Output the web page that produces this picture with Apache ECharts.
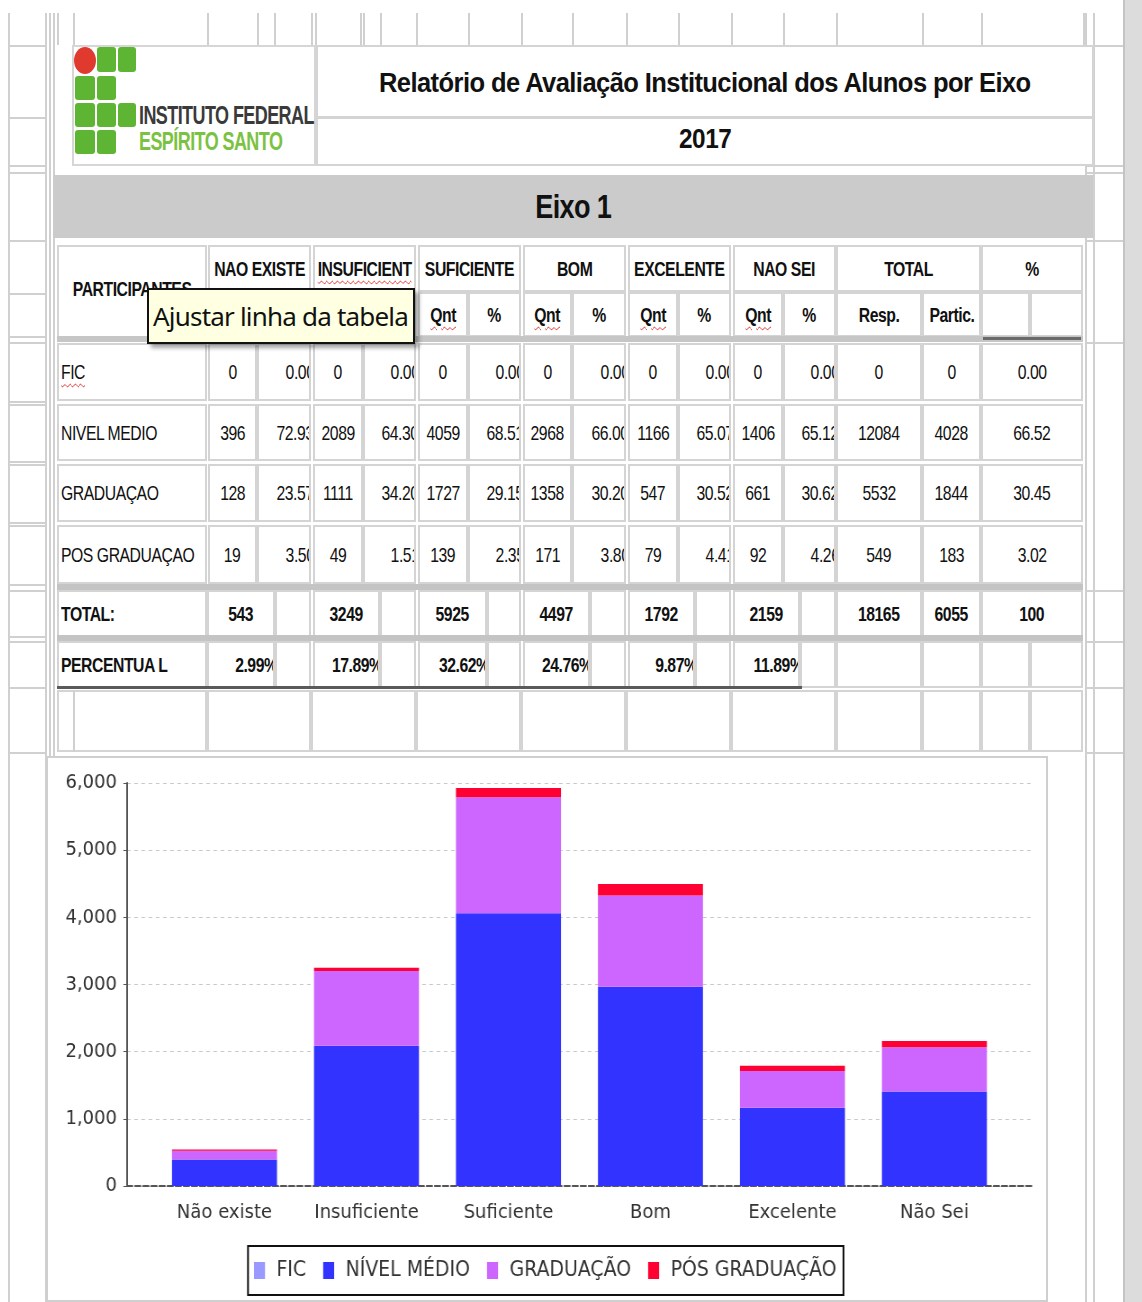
<!DOCTYPE html>
<html>
<head>
<meta charset="utf-8">
<script src="https://cdn.jsdelivr.net/npm/echarts@6/dist/echarts.min.js"></script>
<style>
html, body { margin: 0; padding: 0; background: #fff; }
#page { position: relative; width: 1142px; height: 1302px; overflow: hidden; background: #fff;
        font-family: 'Liberation Sans', Arial, sans-serif; color: #111; }
.ln { position: absolute; background: #d0d0d0; }
.cell { position: absolute; box-sizing: border-box; border: 2px solid #d4d4d4; background: #fff;
        display: flex; align-items: center; justify-content: center; overflow: hidden;
        font-size: 21px; letter-spacing: -0.6px; white-space: nowrap; }
.cell .t { display: inline-block; transform: scaleX(0.75); transform-origin: center; }
.cell.l { justify-content: flex-start; padding-left: 2px; }
.cell.l .t { transform-origin: left center; }
.cell.r { justify-content: flex-end; }
.cell.r .t { transform-origin: right center; margin-right: -5px; }
.cell.b { font-weight: bold; }
.wavy { text-decoration: underline wavy #e02020; text-underline-offset: 4px; text-decoration-thickness: 1px; }
.box { position: absolute; }
.sq { display: inline-block; transform-origin: left center; white-space: nowrap; }
</style>
</head>
<body>
<div id="page">
  <div id="chartFrame" class="box" style="left:46px;top:756px;width:1002px;height:546px;box-sizing:border-box;border:2px solid #cfcfcf;background:#fff"></div>
  <div id="chart" class="box" style="left:47px;top:757px;width:1111px;height:543px;transform:scaleX(0.9);transform-origin:left top"></div>
</div>

<script>
// chart data
const categories = ['Não existe', 'Insuficiente', 'Suficiente', 'Bom', 'Excelente', 'Não Sei']
const ficValues = [0, 0, 0, 0, 0, 0]
const nivelMedioValues = [396, 2089, 4059, 2968, 1166, 1406]
const graduacaoValues = [128, 1111, 1727, 1358, 547, 661]
const posGraduacaoValues = [19, 49, 139, 171, 79, 92]
const yTicks = [0, 1000, 2000, 3000, 4000, 5000, 6000]

// table data
const headerNames = ['NAO EXISTE', 'INSUFICIENT', 'SUFICIENTE', 'BOM', 'EXCELENTE', 'NAO SEI']
const rowNames = ['FIC', 'NIVEL MEDIO', 'GRADUAÇAO', 'POS GRADUAÇAO']
const ficPct = ['0.00', '0.00', '0.00', '0.00', '0.00', '0.00']
const nivelMedioPct = ['72.93', '64.30', '68.51', '66.00', '65.07', '65.12']
const graduacaoPct = ['23.57', '34.20', '29.15', '30.20', '30.52', '30.62']
const posGraduacaoPct = ['3.50', '1.51', '2.35', '3.80', '4.41', '4.26']
const rowResp = [0, 12084, 5532, 549]
const rowPartic = [0, 4028, 1844, 183]
const rowPct = ['0.00', '66.52', '30.45', '3.02']
const totals = [543, 3249, 5925, 4497, 1792, 2159]
const totalResp = 18165
const totalPartic = 6055
const totalPct = 100
const percentual = ['2.99%', '17.89%', '32.62%', '24.76%', '9.87%', '11.89%']

const page = document.getElementById('page')

function add(cls, style, html) {
    const d = document.createElement('div')
    d.className = cls
    d.style.cssText = style
    if (html !== undefined) d.innerHTML = html
    page.insertBefore(d, document.getElementById('chartFrame'))
    return d
}
function hLine(x1, x2, y, color, w) {
    add('ln', `left:${x1}px;top:${y}px;width:${x2 - x1}px;height:${w || 2}px;background:${color || '#d0d0d0'}`)
}
function vLine(x, y1, y2, color, w) {
    add('ln', `left:${x}px;top:${y1}px;width:${w || 2}px;height:${y2 - y1}px;background:${color || '#d0d0d0'}`)
}
function cell(x1, x2, y1, y2, html, extra, style) {
    const inner = html === '' || html === undefined ? '' : `<span class="t">${html}</span>`
    return add('cell ' + (extra || ''), `left:${x1}px;top:${y1}px;width:${x2 - x1}px;height:${y2 - y1}px;${style || ''}`, inner)
}

// ---- background sheet lines ----
const qntCols = [[208, 257], [313, 363], [418, 468], [523, 572], [628, 678], [733, 783]]
const pctCols = [[257, 311], [363, 416], [468, 521], [572, 626], [678, 731], [783, 836]]
const colEdges = [57, 207, 257, 311, 363, 416, 468, 521, 572, 626, 678, 731, 783, 836, 922, 981, 1083, 1093]
colEdges.forEach(x => vLine(x, 13, 45))
;[8, 45, 49, 53].forEach(x => vLine(x, 13, 1302))
;[73, 274, 315, 360, 380].forEach(x => vLine(x, 13, 45))
;[1085, 1093].forEach(x => vLine(x, 13, 1302))
;[45, 117, 165, 172, 240, 293, 336, 342, 401, 404, 461, 464, 522, 525, 584, 590, 636, 641, 687, 752].forEach(y => hLine(8, 45, y))
;[45, 165, 172, 240, 342, 590, 641, 687, 752].forEach(y => hLine(1085, 1123, y))
add('ln', 'left:1125px;top:0;width:17px;height:1302px;background:#dcdcdc')
vLine(1123, 0, 1302, '#c4c4c4', 2)

// ---- logo and title ----
cell(72, 316, 45, 166, '', '', 'border-color:#d6d6d6')
add('cell', 'left:316px;top:45px;width:778px;height:73px;font-weight:bold;font-size:27px;letter-spacing:-0.6px',
    '<span class="sq" style="transform:scaleX(0.945);transform-origin:center;margin-top:4px">Relatório de Avaliação Institucional dos Alunos por Eixo</span>')
add('cell', 'left:316px;top:117px;width:778px;height:49px;font-weight:bold;font-size:28px;letter-spacing:-0.5px',
    '<span class="sq" style="transform:scaleX(0.87);transform-origin:center;margin-top:-5px">2017</span>')
add('box', 'left:74px;top:47px;width:22px;height:27px;border-radius:50%;background:#e03a2f')
;[[97, 47, 19, 25], [118, 47, 18, 25], [75, 76, 20, 24], [97, 76, 19, 24], [75, 103, 20, 24], [97, 103, 19, 24],
  [118, 103, 18, 24], [75, 130, 20, 24], [97, 130, 19, 24]].forEach(r =>
    add('box', `left:${r[0]}px;top:${r[1]}px;width:${r[2]}px;height:${r[3]}px;border-radius:3px;background:#5db533`))
add('box', 'left:139px;top:101px;font-weight:bold;font-size:25px;letter-spacing:-0.8px;color:#3a3a3a',
    '<span class="sq" style="transform:scaleX(0.72)">INSTITUTO FEDERAL</span>')
add('box', 'left:139px;top:127px;font-weight:bold;font-size:25px;letter-spacing:-0.8px;color:#7cc242',
    '<span class="sq" style="transform:scaleX(0.72)">ESPÍRITO SANTO</span>')

// Eixo bar
add('box', 'left:53px;top:175px;width:1040px;height:63px;background:#cbcbcb')
add('box', 'left:53px;top:175px;width:1040px;height:63px;display:flex;align-items:center;justify-content:center;font-weight:bold;font-size:33px;letter-spacing:-0.8px',
    '<span class="sq" style="transform:scaleX(0.82);transform-origin:center">Eixo 1</span>')

// ---- header ----
cell(57, 207, 245, 338, '<span style="position:relative;top:-3px">PARTICIPANTES</span>', 'b')
headerNames.forEach((h, i) => {
    const txt = h === 'INSUFICIENT' ? `<span class="wavy">${h}</span>` : h
    cell(qntCols[i][0], pctCols[i][1], 245, 292, txt, 'b')
    cell(qntCols[i][0], qntCols[i][1], 292, 337, '<span class="wavy">Qnt</span>', 'b')
    cell(pctCols[i][0], pctCols[i][1], 292, 337, '%', 'b')
})
cell(836, 981, 245, 292, 'TOTAL', 'b')
cell(981, 1083, 245, 292, '%', 'b')
cell(836, 922, 292, 337, 'Resp.', 'b')
cell(922, 981, 292, 337, 'Partic.', 'b')
cell(981, 1030, 292, 337, '')
cell(1030, 1083, 292, 337, '')
hLine(57, 1083, 336, '#c6c6c6', 6)
hLine(983, 1081, 337, '#6a6a6a', 3)

// ---- body rows ----
const rowTops = [[343, 401], [404, 461], [464, 522], [525, 584]]
const rowQnt = [ficValues, nivelMedioValues, graduacaoValues, posGraduacaoValues]
const rowPctVals = [ficPct, nivelMedioPct, graduacaoPct, posGraduacaoPct]
rowNames.forEach((name, r) => {
    const [y1, y2] = rowTops[r]
    cell(57, 207, y1, y2, name === 'FIC' ? '<span class="wavy">FIC</span>' : name, 'l')
    for (let i = 0; i < 6; i++) {
        cell(qntCols[i][0], qntCols[i][1], y1, y2, String(rowQnt[r][i]))
        cell(pctCols[i][0], pctCols[i][1], y1, y2, rowPctVals[r][i], 'r')
    }
    cell(836, 922, y1, y2, String(rowResp[r]))
    cell(922, 981, y1, y2, String(rowPartic[r]))
    cell(981, 1083, y1, y2, rowPct[r])
})
hLine(57, 1083, 584, '#c4c4c4', 6)

// total row
cell(57, 207, 590, 637, 'TOTAL:', 'l b')
const totalCols = [[207, 275], [313, 380], [418, 487], [523, 590], [628, 695], [733, 800]]
const blankCols = [[275, 311], [380, 416], [487, 521], [590, 626], [695, 731], [800, 836]]
totals.forEach((t, i) => {
    cell(totalCols[i][0], totalCols[i][1], 590, 637, String(t), 'b')
    cell(blankCols[i][0], blankCols[i][1], 590, 637, '')
})
cell(836, 922, 590, 637, String(totalResp), 'b')
cell(922, 981, 590, 637, String(totalPartic), 'b')
cell(981, 1083, 590, 637, String(totalPct), 'b')
hLine(57, 1083, 635, '#c4c4c4', 6)

// percentual row
cell(57, 207, 641, 688, 'PERCENTUA L', 'l b')
percentual.forEach((p, i) => {
    cell(totalCols[i][0], totalCols[i][1], 641, 688, p, 'r b', '')
    cell(blankCols[i][0], blankCols[i][1], 641, 688, '')
})
cell(836, 922, 641, 688, '')
cell(922, 981, 641, 688, '')
cell(981, 1030, 641, 688, '')
cell(1030, 1083, 641, 688, '')
hLine(57, 802, 686, '#5a5a5a', 3)

// empty row above chart
;[[57, 207], [207, 311], [311, 416], [416, 521], [521, 626], [626, 731], [731, 836], [836, 922], [922, 981], [981, 1030], [1030, 1083]]
    .forEach(c => cell(c[0], c[1], 690, 752, ''))
vLine(73, 690, 752)

// tooltip
add('box', 'left:147px;top:288px;width:268px;height:56px;box-sizing:border-box;background:#ffffe1;border:2px solid #111;box-shadow:4px 4px 4px rgba(0,0,0,0.35);font-family:"Noto Sans","Open Sans",sans-serif;font-size:26px;letter-spacing:-0.8px;color:#111;display:flex;align-items:center;padding-left:4px;white-space:nowrap', 'Ajustar linha da tabela')

// ---- chart ----
// the chart div is drawn 1/0.9 wider and squeezed back, like the report image
const sx = 0.9
const px = v => v / sx
const chartInstance = echarts.init(document.getElementById('chart'))
const font = 'DejaVu Sans'
const barSeries = (name, values, color) => ({
    name: name,
    type: 'bar',
    stack: 'total',
    barWidth: px(105),
    xAxisIndex: 1,
    yAxisIndex: 1,
    data: values,
    itemStyle: { color: color }
})

const stackedOptions = {
    animation: false,
    textStyle: { fontFamily: font },
    grid: [
        { left: px(80), right: px(14), top: 26, bottom: 114 },
        { left: px(106.5), right: px(41.5), top: 26, bottom: 114 }
    ],
    legend: {
        left: px(201),
        top: 489,
        icon: 'rect',
        itemWidth: px(11),
        itemHeight: 17,
        itemGap: px(17),
        padding: [14, px(7), 14, px(6)],
        borderColor: '#111',
        borderWidth: 2,
        textStyle: { fontFamily: font, fontSize: 21, color: '#333', padding: [0, 0, 0, px(7)] },
        data: ['FIC', 'NÍVEL MÉDIO', 'GRADUAÇÃO', 'PÓS GRADUAÇÃO']
    },
    xAxis: [
        {
            gridIndex: 0,
            type: 'value',
            min: 0,
            max: 1,
            splitLine: { show: false },
            axisTick: { show: false },
            axisLabel: { show: false },
            axisLine: { show: true, lineStyle: { color: '#555', width: 2, type: [6, 3] } }
        },
        {
            gridIndex: 1,
            type: 'category',
            data: categories,
            axisLine: { show: false },
            axisTick: { show: false },
            axisLabel: { fontSize: 20, color: '#333', margin: 17 }
        }
    ],
    yAxis: [
        {
            gridIndex: 0,
            type: 'value',
            min: yTicks[0],
            max: yTicks[yTicks.length - 1],
            interval: 1000,
            axisLine: { show: true, onZero: false, lineStyle: { color: '#555', width: 2 } },
            axisTick: { show: true, length: 4, lineStyle: { color: '#555' } },
            axisLabel: {
                formatter: v => v.toLocaleString('en-US'),
                fontSize: 20,
                color: '#333',
                margin: px(10)
            },
            splitLine: { show: true, lineStyle: { color: '#c8c8c8', type: [4, 4] } }
        },
        {
            gridIndex: 1,
            type: 'value',
            min: yTicks[0],
            max: yTicks[yTicks.length - 1],
            interval: 1000,
            show: false
        }
    ],
    series: [
        barSeries('FIC', ficValues, '#9999ff'),
        barSeries('NÍVEL MÉDIO', nivelMedioValues, '#3333ff'),
        barSeries('GRADUAÇÃO', graduacaoValues, '#cc66ff'),
        barSeries('PÓS GRADUAÇÃO', posGraduacaoValues, '#ff0033')
    ]
}
chartInstance.setOption(stackedOptions)
</script>
</body>
</html>
